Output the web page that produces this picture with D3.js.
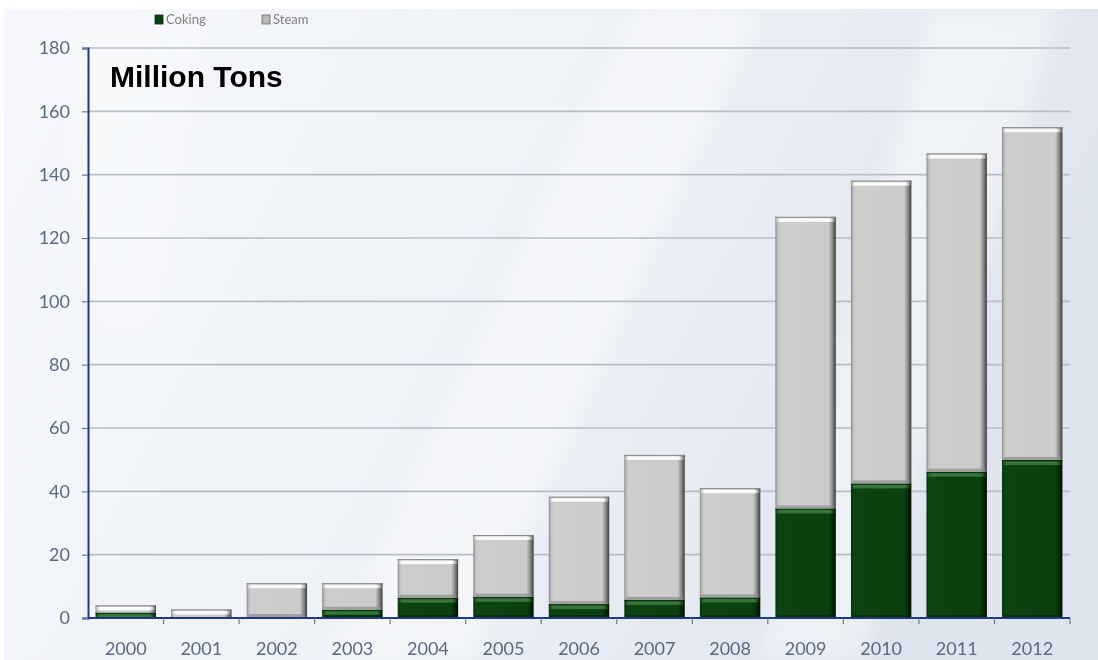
<!DOCTYPE html>
<html>
<head>
<meta charset="utf-8">
<script src="https://cdn.jsdelivr.net/npm/d3@7"></script>
<style>
  html, body { margin: 0; padding: 0; background: #ffffff; }
  svg { display: block; }
</style>
</head>
<body>
<svg id="chart" width="1098" height="660"></svg>
<script>
// Coal imports by type, million tons
const years = ["2000","2001","2002","2003","2004","2005","2006","2007","2008","2009","2010","2011","2012"];
const coking = [1.7, 0.2, 0.3, 2.6, 6.4, 6.7, 4.4, 5.7, 6.5, 34.6, 42.5, 46.2, 49.9];
const steam  = [2.3, 2.5, 10.7, 8.4, 12.2, 19.5, 33.9, 45.8, 34.5, 92.1, 95.6, 100.5, 105.1];
const yTicks = [0, 20, 40, 60, 80, 100, 120, 140, 160, 180];
const seriesNames = ["Coking", "Steam"];

const W = 1098, H = 660;
const svg = d3.select("#chart");
const defs = svg.append("defs");

// ---- slide background ----
const bg = defs.append("linearGradient").attr("id", "bg").attr("x1", 0).attr("y1", 0).attr("x2", 1).attr("y2", 0.3);
bg.append("stop").attr("offset", "0%").attr("stop-color", "#f6f8fb");
bg.append("stop").attr("offset", "55%").attr("stop-color", "#eef1f7");
bg.append("stop").attr("offset", "100%").attr("stop-color", "#dfe5ef");
svg.append("rect").attr("x", 4).attr("y", 9).attr("width", W - 4).attr("height", H - 9).attr("fill", "url(#bg)");

const blur = defs.append("filter").attr("id", "soft").attr("x", "-20%").attr("y", "-20%").attr("width", "140%").attr("height", "140%");
blur.append("feGaussianBlur").attr("stdDeviation", 10);

// soft diagonal light streaks
const streaks = [
  [[640, 9], [760, 9], [470, 660], [330, 660]],
  [[930, 9], [1060, 9], [860, 660], [760, 660]],
  [[55, 9], [210, 9], [160, 330], [95, 330]]
];
svg.append("g").attr("filter", "url(#soft)").selectAll("path").data(streaks).join("path")
  .attr("d", d => "M" + d.map(p => p.join(",")).join("L") + "Z")
  .attr("fill", "#ffffff").attr("opacity", (d, i) => i < 2 ? 0.4 : 0.3);

// ---- scales ----
const x = d3.scaleBand().domain(years).range([88, 1070]).paddingInner(0.2).paddingOuter(0.1);
const y = d3.scaleLinear().domain([0, 180]).range([618, 48]);

// ---- gridlines ----
svg.append("g").selectAll("line").data(yTicks.filter(t => t > 0)).join("line")
  .attr("x1", 88).attr("x2", 1070)
  .attr("y1", d => y(d)).attr("y2", d => y(d))
  .attr("stroke", "#b9bdc6").attr("stroke-width", 1.6);

// ---- bar gradients ----
function hGrad(id, stops) {
  const g = defs.append("linearGradient").attr("id", id).attr("x1", 0).attr("x2", 1).attr("y1", 0).attr("y2", 0);
  stops.forEach(s => g.append("stop").attr("offset", s[0]).attr("stop-color", s[1]));
}
hGrad("gSteam", [["0%", "#8a8a8a"], ["4%", "#c2c2c2"], ["8%", "#cdcdcd"], ["88%", "#cbcbcb"], ["93%", "#999999"], ["100%", "#3e3e3e"]]);
hGrad("gCoking", [["0%", "#06300a"], ["4%", "#0c4311"], ["88%", "#0b4010"], ["94%", "#062a08"], ["100%", "#010d02"]]);
hGrad("gSteamTop", [["0%", "#c8c8c8"], ["6%", "#ffffff"], ["92%", "#ffffff"], ["100%", "#8a8a8a"]]);
hGrad("gCokingTop", [["0%", "#1e5220"], ["6%", "#3a783c"], ["92%", "#3a783c"], ["100%", "#082a0a"]]);

const stack = d3.stack().keys([0, 1]).value((d, k) => k === 0 ? d.c : d.s);
const rows = years.map((yr, i) => ({ yr, c: coking[i], s: steam[i] }));
const layers = stack(rows);

const barG = svg.append("g");
layers.forEach((layer, li) => {
  const segs = layer.map((d, i) => ({ yr: years[i], y0: d[0], y1: d[1] }));
  const g = barG.append("g");
  // body
  g.selectAll("rect.body").data(segs).join("rect").attr("class", "body")
    .attr("x", d => x(d.yr)).attr("width", x.bandwidth())
    .attr("y", d => y(d.y1)).attr("height", d => Math.max(0, y(d.y0) - y(d.y1)))
    .attr("fill", li === 0 ? "url(#gCoking)" : "url(#gSteam)");
  // top bevel highlight
  g.selectAll("rect.top").data(segs.filter(d => y(d.y0) - y(d.y1) > 4)).join("rect").attr("class", "top")
    .attr("x", d => x(d.yr) + 1).attr("width", x.bandwidth() - 2)
    .attr("y", d => y(d.y1) + 1.5).attr("height", li === 0 ? 3.5 : 3.5)
    .attr("fill", li === 0 ? "url(#gCokingTop)" : "url(#gSteamTop)")
    .attr("opacity", 0.95);
  // top edge line
  g.selectAll("line.edge").data(segs.filter(d => y(d.y0) - y(d.y1) > 2)).join("line").attr("class", "edge")
    .attr("x1", d => x(d.yr)).attr("x2", d => x(d.yr) + x.bandwidth())
    .attr("y1", d => y(d.y1) + 0.5).attr("y2", d => y(d.y1) + 0.5)
    .attr("stroke", li === 0 ? "#0a300c" : "#8a8a8a").attr("stroke-width", 1);
  // bottom shading band
  g.selectAll("rect.bot").data(segs.filter(d => y(d.y0) - y(d.y1) > 8)).join("rect").attr("class", "bot")
    .attr("x", d => x(d.yr) + 2).attr("width", x.bandwidth() - 4)
    .attr("y", d => y(d.y0) - 3).attr("height", 3)
    .attr("fill", li === 0 ? "#05260a" : "#8c8c8c").attr("opacity", 0.7);
});

// ---- axes ----
const axisColor = "#1f3a7c";
const labelColor = "#5a6a80";

// y axis
const yAxis = svg.append("g").attr("transform", "translate(88,0)")
  .call(d3.axisLeft(y).tickValues(yTicks).tickSize(6).tickPadding(12).tickFormat(d3.format("d")));
yAxis.select(".domain").attr("stroke", axisColor).attr("stroke-width", 2);
yAxis.selectAll(".tick line").attr("stroke", "#6f7a8c").attr("stroke-width", 1.2);
yAxis.selectAll(".tick text").attr("fill", labelColor)
  .style("font-family", "Lato, 'Open Sans', sans-serif").style("font-size", "18px");

// x axis
const xAxis = svg.append("g").attr("transform", "translate(0,618)")
  .call(d3.axisBottom(x).tickSize(0).tickPadding(24));
xAxis.select(".domain").remove();
xAxis.append("line").attr("x1", 88).attr("x2", 1070).attr("y1", 0).attr("y2", 0)
  .attr("stroke", axisColor).attr("stroke-width", 2);
xAxis.selectAll(".tick text").attr("fill", labelColor)
  .style("font-family", "Lato, 'Open Sans', sans-serif").style("font-size", "18px");
// category boundary ticks
const bounds = d3.range(1, years.length + 1).map(i => x(years[i - 1]) + x.bandwidth() + x.step() * x.paddingInner() / 2);
xAxis.append("g").selectAll("line").data(bounds).join("line")
  .attr("x1", d => d).attr("x2", d => d).attr("y1", 0).attr("y2", 6)
  .attr("stroke", "#6f7a8c").attr("stroke-width", 1.2);

// ---- title ----
svg.append("text").attr("x", 110).attr("y", 87)
  .style("font-family", "'Liberation Sans', Arial, sans-serif").style("font-weight", "bold").style("font-size", "30px")
  .attr("fill", "#000000").text("Million Tons");

// ---- legend ----
const legend = svg.append("g").style("font-family", "Lato, 'Open Sans', sans-serif").style("font-size", "13px");
const legendX = [155, 262];
seriesNames.forEach((name, i) => {
  const lg = legend.append("g").attr("transform", `translate(${legendX[i]},0)`);
  lg.append("rect").attr("x", 0).attr("y", 15).attr("width", 8).attr("height", 9)
    .attr("fill", i === 0 ? "#0b4010" : "#b8b8b8").attr("stroke", i === 0 ? "#06300a" : "#6a6a6a").attr("stroke-width", 0.8);
  lg.append("text").attr("x", 11).attr("y", 24).attr("fill", "#808080").text(name);
});
</script>
</body>
</html>
